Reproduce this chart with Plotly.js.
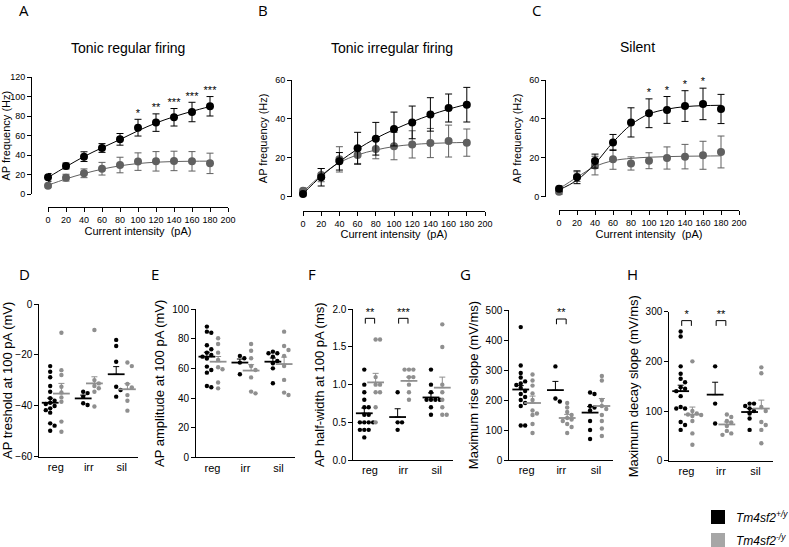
<!DOCTYPE html>
<html><head><meta charset="utf-8">
<script src="https://cdn.plot.ly/plotly-3.0.1.min.js"></script>
<style>html,body{margin:0;padding:0;background:#fff}#chart{width:789px;height:547px}</style>
</head><body><div id="chart"></div>
<script>
// ---------------- DATA ----------------
const current = [0, 20, 40, 60, 80, 100, 120, 140, 160, 180];
const currentTicks = [0, 20, 40, 60, 80, 100, 120, 140, 160, 180, 200];

// A: Tonic regular firing
const aWtMean = [17.1, 28.8, 38.4, 47.3, 56.2, 68.2, 73.4, 78.9, 84.3, 90.2];
const aWtSem  = [4, 3, 5, 4.5, 6, 8.6, 9, 9, 10, 10];
const aKoMean = [8.6, 16.8, 21.3, 26, 29.8, 33.3, 33.6, 34, 33.6, 31.5];
const aKoSem  = [1.5, 3.5, 4.5, 6.5, 8, 9, 10, 10, 10, 10.5];
const aWtFit  = [17, 28, 38.5, 47.5, 56, 65, 73, 79.5, 85, 90];
const aKoFit  = [9, 15.5, 21, 25.5, 29, 31.3, 32.7, 33.4, 33.7, 33.8];
const aStars  = ['', '', '', '', '', '*', '**', '***', '***', '***'];

// B: Tonic irregular firing
const bWtMean = [1.4, 10, 18.2, 24.9, 29.8, 34.8, 38.2, 42.3, 45.6, 47.3];
const bWtSem  = [1, 4.5, 4.5, 8.2, 8.4, 8.7, 8.4, 8.6, 7.2, 8.9];
const bKoMean = [3.1, 11.1, 19.2, 21.4, 24.5, 26, 26.9, 27.6, 28.6, 27.8];
const bKoSem  = [1.5, 3.4, 6.5, 4.3, 5, 7, 7, 7.5, 8.2, 7];
const bWtFit  = [1.5, 10.5, 18, 24.5, 30, 34.5, 38.5, 42, 45, 47.5];
const bKoFit  = [2.5, 11, 17.5, 21.5, 24, 25.8, 26.8, 27.4, 27.7, 27.9];
const bStars  = ['', '', '', '', '', '', '', '', '', ''];

// C: Silent
const cWtMean = [4.1, 10, 18.3, 27.9, 38.2, 42.9, 44.6, 46.6, 47.7, 45.1];
const cWtSem  = [1.5, 3.3, 3.6, 4.1, 7.5, 7.4, 6.9, 7.9, 8.1, 7.5];
const cKoMean = [2.6, 10.3, 16, 19.2, 17.1, 18.5, 19.9, 20.6, 21.3, 23];
const cKoSem  = [1.5, 2.5, 4.8, 5.1, 3.4, 4.1, 5.7, 6.3, 7.2, 8.2];
const cWtFit  = [3.5, 8.5, 17, 28, 37, 42.5, 45, 46.3, 46.8, 47];
const cKoFit  = [4, 10, 15.5, 18.5, 19.7, 20.3, 20.6, 20.8, 20.9, 21];
const cStars  = ['', '', '', '', '', '*', '*', '*', '*', ''];

// Bottom panels: categories reg / irr / sil
const groups = ['reg', 'irr', 'sil'];

// D: AP threshold (mV)
const dWt = [[-24.4,-26.6,-28.8,-32.2,-34.5,-37,-38,-38.8,-39.3,-40.1,-41,-41.7,-42.7,-46.9,-47.8,-49.8],
             [-34.5,-35,-36.4,-39,-39.7],
             [-14.1,-16.5,-22.7,-32.5,-33.8,-36.4]];
const dKo = [[-11.3,-26,-27.9,-32.5,-34.8,-36.7,-38.4,-46.2,-50.2],
             [-10.2,-29.9,-31.2,-32.2,-33.1,-34.5,-40.3],
             [-23,-24.4,-31.4,-32.8,-35.8,-38,-41.9]];
const dWtMean = [-38.8, -37.1, -27.6], dWtSem = [1.8, 1.3, 3];
const dKoMean = [-35.2, -31.2, -33.5], dKoSem = [4, 2.6, 2.2];
const dSig = ['', '', ''];

// E: AP amplitude (mV)
const eWt = [[88.3,84.9,84.2,75.7,73,70.7,69.1,68,66.7,61.3,59,57.2,48.2,47.3],
             [68.5,66.9,64,56.1],
             [71.4,70.3,70.3,68,65.1,63.5,60.1,50]];
const eKo = [[80.4,76.6,70.7,65.8,60.8,59.5,50.5,46.6],
             [76.6,72,66.9,61.7,59,54,44.4,43.2],
             [84.9,75.2,72.5,68.5,61.7,52.3,43.7,42.1]];
const eWtMean = [68, 64, 64.6], eWtSem = [3, 2.4, 2.5];
const eKoMean = [64.6, 58.6, 63], eKoSem = [3.5, 4, 4.7];
const eSig = ['', '', ''];

// F: AP half-width (ms)
const fWt = [[1.2,1.0,0.9,0.8,0.7,0.7,0.6,0.6,0.5,0.5,0.5,0.5,0.4,0.4,0.4,0.3],
             [0.9,0.5,0.5,0.4],
             [1.2,1.0,0.9,0.8,0.8,0.8,0.8,0.7,0.6]];
const fKo = [[1.6,1.6,1.1,1.0,1.0,0.9,0.9,0.7,0.5],
             [1.2,1.2,1.2,1.1,1.1,1.0,0.9,0.8],
             [1.8,1.5,1.0,0.9,0.8,0.7,0.6,0.6]];
const fWtMean = [0.62, 0.57, 0.83], fWtSem = [0.07, 0.11, 0.06];
const fKoMean = [1.03, 1.05, 0.96], fKoSem = [0.12, 0.05, 0.14];
const fSig = ['**', '***', ''];

// G: Maximum rise slope (mV/ms)
const gWt = [[443,315,290,275,262,255,250,240,230,220,210,200,190,180,115,115],
             [312,205,195],
             [225,220,180,175,165,130,100,70]];
const gKo = [[285,265,248,222,200,165,155,150,120,90],
             [190,175,160,150,140,135,130,120,110,90],
             [280,265,200,180,170,150,130,105,80]];
const gWtMean = [235, 233, 158], gWtSem = [13, 29, 20];
const gKoMean = [190, 140, 180], gKoSem = [23, 12, 25];
const gSig = ['', '**', ''];

// H: Maximum decay slope (mV/ms)
const hWt = [[260,250,190,175,165,158,148,145,140,130,108,105,105,78,72,62],
             [190,115,75],
             [115,115,110,105,100,95,85,62]];
const hKo = [[200,100,95,93,92,90,80,55,32],
             [93,88,80,77,70,60,55,52],
             [188,176,108,100,78,72,62,35]];
const hWtMean = [140, 133, 98], hWtSem = [12, 25, 7];
const hKoMean = [93, 73, 105], hKoSem = [15, 5, 17];
const hSig = ['*', '**', ''];

const legendNames = ['<i>Tm4sf2<sup>+/y</sup></i>', '<i>Tm4sf2<sup>-/y</sup></i>'];

// ---------------- STYLE / LAYOUT ----------------
const W = 789, H = 547;
const fx = px => px / W;
const fy = py => 1 - py / H;
const BLACK = '#000000', GREYTOP = '#606060', GREYDOT = '#8f8f8f', GREYLEG = '#a6a6a6';
const FONT = 'Liberation Sans, Arial, sans-serif';
const TFONT = 'Open Sans, Liberation Sans, sans-serif';

const traces = [];
const layout = {
  width: W, height: H,
  margin: {l: 0, r: 0, t: 0, b: 0},
  paper_bgcolor: '#fff', plot_bgcolor: 'rgba(0,0,0,0)',
  font: {family: FONT, color: '#000'},
  showlegend: false,
  annotations: [], shapes: []
};

const axisBase = {showgrid: false, zeroline: false, showline: true, linecolor: '#000', linewidth: 1,
                  ticks: 'outside', ticklen: 4, tickcolor: '#000', tickwidth: 1, fixedrange: true};

function starTrace(xs, ys, labels, xa, ya) {
  const sx = [], sy = [], st = [];
  labels.forEach((s, i) => { if (s) { sx.push(xs[i]); sy.push(ys[i]); st.push(s); } });
  return {x: sx, y: sy, text: st, xaxis: xa, yaxis: ya, mode: 'text', textposition: 'top center',
          showlegend: false, cliponaxis: false, hoverinfo: 'skip',
          textfont: {family: FONT, size: 11, color: '#000000'}};
}

// Top panels
const topPanels = [
  {id: '', letter: 'A', lx: 24, title: 'Tonic regular firing', tx: 128, ty: 48,
   yAxisX: 31, x0: 48, x1: 228, xLineY: 207, yTop: 77.3, yBot: 194, ymax: 120,
   wm: aWtMean, ws: aWtSem, km: aKoMean, ks: aKoSem, wf: aWtFit, kf: aKoFit, st: aStars},
  {id: '2', letter: 'B', lx: 263, title: 'Tonic irregular firing', tx: 392, ty: 48,
   yAxisX: 291, x0: 303, x1: 485, xLineY: 210.7, yTop: 80, yBot: 196.7, ymax: 60,
   wm: bWtMean, ws: bWtSem, km: bKoMean, ks: bKoSem, wf: bWtFit, kf: bKoFit, st: bStars},
  {id: '3', letter: 'C', lx: 536, title: 'Silent', tx: 637, ty: 47,
   yAxisX: 545, x0: 559, x1: 739, xLineY: 210, yTop: 80, yBot: 196.7, ymax: 60,
   wm: cWtMean, ws: cWtSem, km: cKoMean, ks: cKoSem, wf: cWtFit, kf: cKoFit, st: cStars}
];

topPanels.forEach(p => {
  const xa = 'x' + p.id, ya = 'y' + p.id;
  layout['xaxis' + p.id] = Object.assign({}, axisBase, {
    domain: [fx(p.x0), fx(p.x1)], range: [0, 200], anchor: 'free', position: fy(p.xLineY),
    tickmode: 'array', tickvals: currentTicks, tickfont: {size: 9},
    title: {text: 'Current intensity  (pA)', font: {size: 11}, standoff: 2}
  });
  layout['yaxis' + p.id] = Object.assign({}, axisBase, {
    domain: [fy(p.yBot), fy(p.yTop)], range: [0, p.ymax], anchor: 'free', position: fx(p.yAxisX),
    dtick: 20, tickfont: {size: 9},
    title: {text: 'AP frequency (Hz)', font: {size: 11}, standoff: 4}
  });
  const series = [[p.kf, p.km, p.ks, GREYTOP], [p.wf, p.wm, p.ws, BLACK]];
  series.forEach(([fit, m, s, col]) => {
    traces.push({x: current, y: fit, xaxis: xa, yaxis: ya, mode: 'lines', showlegend: false,
                 line: {color: col, width: 1, shape: 'spline', smoothing: 1}, hoverinfo: 'skip'});
    traces.push({x: current, y: m, xaxis: xa, yaxis: ya, mode: 'markers', showlegend: false, cliponaxis: false,
                 marker: {color: col, size: 8},
                 error_y: {type: 'data', array: s, visible: true, color: col, thickness: 1, width: 3.5}});
  });
  if (p.st.some(s => s)) traces.push(starTrace(current, p.wm.map((v, i) => v + p.ws[i]), p.st, xa, ya));
  layout.annotations.push({xref: 'paper', yref: 'paper', x: fx(p.lx), y: fy(10), text: p.letter,
    showarrow: false, xanchor: 'center', yanchor: 'middle', font: {family: TFONT, size: 15}});
  layout.annotations.push({xref: 'paper', yref: 'paper', x: fx(p.tx), y: fy(p.ty), text: p.title,
    showarrow: false, xanchor: 'center', yanchor: 'middle', font: {family: FONT, size: 14}});
});

// Bottom panels
const bottomPanels = [
  {id: '4', letter: 'D', lx: 24, x0: 39.3, x1: 138.3, yTop: 304, yBot: 456.7, range: [-60, 0], dtick: 20, fmt: '',
   title: 'AP treshold at 100 pA (mV)', wt: dWt, ko: dKo, wm: dWtMean, ws: dWtSem, km: dKoMean, ks: dKoSem, sig: dSig},
  {id: '5', letter: 'E', lx: 155, x0: 196, x1: 295, yTop: 309.3, yBot: 457.3, range: [0, 100], dtick: 20, fmt: '',
   title: 'AP amplitude at 100 pA (mV)', wt: eWt, ko: eKo, wm: eWtMean, ws: eWtSem, km: eKoMean, ks: eKoSem, sig: eSig},
  {id: '6', letter: 'F', lx: 312, x0: 353.3, x1: 453.3, yTop: 309.3, yBot: 460, range: [0, 2], dtick: 0.5, fmt: '.1f',
   title: 'AP half-width at 100 pA (ms)', wt: fWt, ko: fKo, wm: fWtMean, ws: fWtSem, km: fKoMean, ks: fKoSem, sig: fSig},
  {id: '7', letter: 'G', lx: 465, x0: 509.3, x1: 613.3, yTop: 310, yBot: 460, range: [0, 500], dtick: 100, fmt: '',
   title: 'Maximum rise slope (mV/ms)', wt: gWt, ko: gKo, wm: gWtMean, ws: gWtSem, km: gKoMean, ks: gKoSem, sig: gSig},
  {id: '8', letter: 'H', lx: 632, x0: 669.3, x1: 772.7, yTop: 311.7, yBot: 460.7, range: [0, 300], dtick: 100, fmt: '',
   title: 'Maximum decay slope (mV/ms)', wt: hWt, ko: hKo, wm: hWtMean, ws: hWtSem, km: hKoMean, ks: hKoSem, sig: hSig}
];

const XR = [0.5, 3.5];
const catPos = groups.map((g, i) => i + 1);
const OFF = 0.17;

function swarm(vals, pxX, pxY, diam) {
  const order = vals.map((v, i) => i).sort((a, b) => vals[b] - vals[a]);
  const placed = [];
  const out = new Array(vals.length).fill(0);
  order.forEach(i => {
    const v = vals[i];
    for (let k = 0; k < 40; k++) {
      const n = Math.ceil(k / 2) * (k % 2 === 1 ? 1 : -1);
      const off = n * diam;
      const ok = placed.every(p => Math.hypot(off - p.off, (v - p.v) * pxY) >= diam * 0.98);
      if (ok) { placed.push({off, v}); out[i] = off / pxX; break; }
    }
  });
  return out;
}

bottomPanels.forEach(p => {
  const xa = 'x' + p.id, ya = 'y' + p.id;
  layout['xaxis' + p.id] = Object.assign({}, axisBase, {
    domain: [fx(p.x0), fx(p.x1)], range: XR, anchor: ya,
    tickmode: 'array', tickvals: catPos, ticktext: groups, ticks: '', tickfont: {size: 11}
  });
  layout['yaxis' + p.id] = Object.assign({}, axisBase, {
    domain: [fy(p.yBot), fy(p.yTop)], range: p.range, anchor: xa, dtick: p.dtick, tickformat: p.fmt,
    tickfont: {size: 10}, title: {text: p.title, font: {size: 13}, standoff: 4}
  });
  const pxX = (p.x1 - p.x0) / (XR[1] - XR[0]);
  const pxY = (p.yBot - p.yTop) / (p.range[1] - p.range[0]);
  const sets = [[p.wt, p.wm, p.ws, -OFF, BLACK], [p.ko, p.km, p.ks, OFF, GREYDOT]];
  sets.forEach(([data, means, sems, off, col]) => {
    const xs = [], ys = [];
    data.forEach((vals, gi) => {
      const dx = swarm(vals, pxX, pxY, 4.4);
      vals.forEach((v, j) => { xs.push(catPos[gi] + off + dx[j]); ys.push(v); });
    });
    traces.push({x: xs, y: ys, xaxis: xa, yaxis: ya, mode: 'markers', showlegend: false, cliponaxis: false,
                 marker: {color: col, size: 4.4}, hoverinfo: 'y'});
    traces.push({x: catPos.map(c => c + off), y: means, xaxis: xa, yaxis: ya, mode: 'markers',
                 showlegend: false, cliponaxis: false,
                 marker: {symbol: 'line-ew', size: 12, line: {color: col, width: 1.8}},
                 error_y: {type: 'data', symmetric: false, array: sems, arrayminus: sems.map(() => 0),
                           visible: true, color: col, thickness: 1, width: 3}});
  });
  // significance brackets
  const top = p.range[1] * 0.94, leg = p.range[1] * 0.905;
  const bx = [], by = [], sx = [], sy = [];
  p.sig.forEach((s, gi) => {
    const c = catPos[gi];
    sx.push(c); sy.push(top);
    if (!s) return;
    bx.push(c - 0.14, c - 0.14, c + 0.14, c + 0.14, null);
    by.push(leg, top, top, leg, null);
  });
  if (bx.length) {
    traces.push({x: bx, y: by, xaxis: xa, yaxis: ya, mode: 'lines', showlegend: false, cliponaxis: false,
                 line: {color: '#000', width: 1}, hoverinfo: 'skip'});
    traces.push(starTrace(sx, sy, p.sig, xa, ya));
  }
  layout.annotations.push({xref: 'paper', yref: 'paper', x: fx(p.lx), y: fy(274), text: p.letter,
    showarrow: false, xanchor: 'center', yanchor: 'middle', font: {family: TFONT, size: 15}});
});

// Legend (key squares + labels, placed in paper space)
const legendCols = [BLACK, GREYLEG];
legendNames.forEach((name, i) => {
  const cy = 517 + i * 23;
  layout.shapes.push({type: 'rect', xref: 'paper', yref: 'paper', layer: 'above',
    x0: fx(711), x1: fx(725), y0: fy(cy + 7), y1: fy(cy - 7),
    fillcolor: legendCols[i], line: {width: 0}});
  layout.annotations.push({xref: 'paper', yref: 'paper', x: fx(734), y: fy(cy), text: name,
    showarrow: false, xanchor: 'left', yanchor: 'middle', font: {family: FONT, size: 12, color: '#000'}});
});

Plotly.newPlot('chart', traces, layout, {staticPlot: true, displayModeBar: false});
</script></body></html>
